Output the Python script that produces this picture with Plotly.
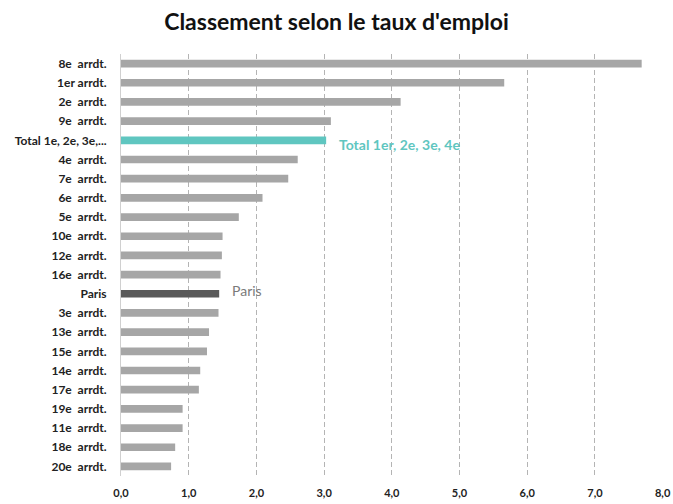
import plotly.graph_objects as go

# Employment-rate ranking by arrondissement
categories = [
    "8e  arrdt.", "1er arrdt.", "2e  arrdt.", "9e  arrdt.", "Total 1e, 2e, 3e,...",
    "4e  arrdt.", "7e  arrdt.", "6e  arrdt.", "5e  arrdt.", "10e  arrdt.",
    "12e  arrdt.", "16e  arrdt.", "Paris", "3e  arrdt.", "13e  arrdt.",
    "15e  arrdt.", "14e  arrdt.", "17e  arrdt.", "19e  arrdt.", "11e  arrdt.",
    "18e  arrdt.", "20e  arrdt.",
]
values = [
    7.69, 5.66, 4.13, 3.10, 3.03,
    2.61, 2.47, 2.09, 1.74, 1.50,
    1.49, 1.47, 1.45, 1.44, 1.30,
    1.27, 1.17, 1.15, 0.91, 0.91,
    0.80, 0.74,
]
x_ticks = [0, 1, 2, 3, 4, 5, 6, 7, 8]
x_tick_labels = ["0,0", "1,0", "2,0", "3,0", "4,0", "5,0", "6,0", "7,0", "8,0"]

GRAY = "#A6A6A6"
TEAL = "#5FC6C0"
DARK = "#595959"

colors = []
for c in categories:
    if c.startswith("Total"):
        colors.append(TEAL)
    elif c == "Paris":
        colors.append(DARK)
    else:
        colors.append(GRAY)

fig = go.Figure()
fig.add_trace(go.Bar(
    x=values,
    y=categories,
    orientation="h",
    marker=dict(color=colors, line=dict(width=0)),
    hoverinfo="x+y",
))

i_total = next(i for i, c in enumerate(categories) if c.startswith("Total"))
i_paris = categories.index("Paris")

fig.add_annotation(
    x=values[i_total], y=categories[i_total], text="Total 1er, 2e, 3e, 4e",
    showarrow=False, xanchor="left", xshift=11, yshift=-4,
    font=dict(family="Lato", size=14, color=TEAL, weight="bold"),
)
fig.add_annotation(
    x=values[i_paris], y=categories[i_paris], text="Paris",
    showarrow=False, xanchor="left", xshift=11, yshift=3,
    font=dict(family="Lato", size=14, color="#7A7A7A"),
)

fig.update_layout(
    width=673, height=504,
    margin=dict(l=121, r=10, t=54, b=28),
    paper_bgcolor="white", plot_bgcolor="white",
    bargap=0.6,
    showlegend=False,
    title=dict(
        text="Classement selon le taux d'emploi",
        x=0.5, xanchor="center", y=0.956, yanchor="middle",
        font=dict(family="Lato", size=23, color="#111111", weight="bold"),
    ),
)
fig.update_xaxes(
    range=[0, 8.005], tickvals=x_ticks, ticktext=x_tick_labels,
    showgrid=True, gridcolor="#B4B4B4", gridwidth=1, griddash="5px,3px",
    zeroline=False, showline=False, automargin=False,
    tickfont=dict(family="Lato", size=11, color="#222222", weight="bold"),
    ticks="", ticklabelstandoff=9,
)
fig.update_yaxes(
    autorange="reversed", categoryorder="array", categoryarray=categories,
    showgrid=False, zeroline=False, automargin=False,
    showline=True, linecolor="#D0D0D0", linewidth=1,
    tickfont=dict(family="Lato", size=12, color="#222222", weight="bold"),
    ticks="", ticklabelstandoff=11,
)

fig.write_html("out.html")
